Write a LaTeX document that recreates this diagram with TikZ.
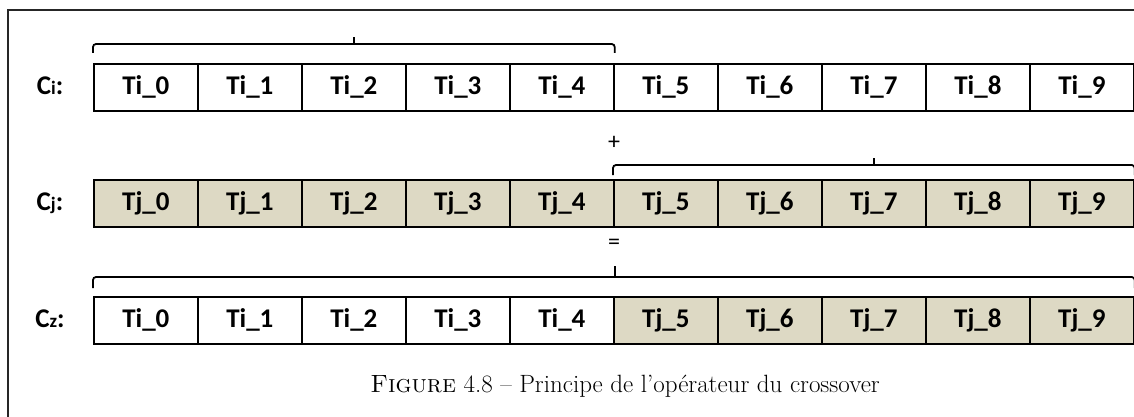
\documentclass[tikz,border=0pt]{standalone}
\usepackage{fontspec}
\newfontfamily\calfont{Carlito}
\definecolor{tan}{RGB}{221,217,196}
\begin{document}
\begin{tikzpicture}[x=1pt,y=-1pt,
  cell/.style={draw, line width=1.7pt, minimum width=104pt, minimum height=47pt, inner sep=0pt, anchor=north west, font=\calfont\bfseries\fontsize{27}{27}\selectfont},
  tancell/.style={cell, fill=tan},
  lab/.style={font=\calfont\bfseries\fontsize{27}{27}\selectfont, inner sep=0pt},
  op/.style={font=\calfont\fontsize{24}{24}\selectfont, inner sep=0pt},
  brace/.style={line width=1.8pt, rounded corners=3pt},
  tip/.style={line width=2.2pt},
  frame/.style={line width=1.4pt, black!85}]
\useasboundingbox (0,0) rectangle (1134,417);
\clip (0,0) rectangle (1134,417);
\draw[frame] (8,420) -- (8,10) -- (1140,10);
% rows
\foreach \i in {0,...,9} {
  \node[cell] (a\i) at ({93+104*\i},63) {Ti\_\i};
  \node[tancell] (b\i) at ({93+104*\i},179) {Tj\_\i};
}
\foreach \i in {0,...,4} {
  \node[cell] (c\i) at ({93+104*\i},296) {Ti\_\i};
}
\foreach \i in {5,...,9} {
  \node[tancell] (c\i) at ({93+104*\i},296) {Tj\_\i};
}
% labels
\node[lab] (la) at (50,86) {C{\fontsize{19}{19}\selectfont i}:};
\node[lab] (lb) at (50,203) {C{\fontsize{19}{19}\selectfont j}:};
\node[lab] (lc) at (50,319) {C{\fontsize{19}{19}\selectfont z}:};
% braces
\draw[brace] ([yshift=10pt]a0.north west) -- ++(0,-9) -| ([yshift=10pt]a4.north east);
\draw[tip] ([yshift=19pt]a2.north) -- ++(0,-7);
\draw[brace] ([yshift=4pt]b5.north west) -- ++(0,-10) -| ([yshift=4pt]b9.north east);
\draw[tip] ([yshift=14pt]b7.north) -- ++(0,-7);
\draw[brace] ([yshift=8pt]c0.north west) -- ++(0,-11) -| ([yshift=8pt]c9.north east);
\draw[tip] ([yshift=19pt]c4.north east) -- ++(0,-11);
% operators
\node[op] (plus) at (614,143) {+};
\node[op] (eq) at (614,244) {=};
% caption
\node[font=\fontsize{25}{29}\selectfont, inner sep=0pt] (cap) at (625,386) {\textsc{Figure} 4.8 – Principe de l’opérateur du crossover};
\end{tikzpicture}
\end{document}
